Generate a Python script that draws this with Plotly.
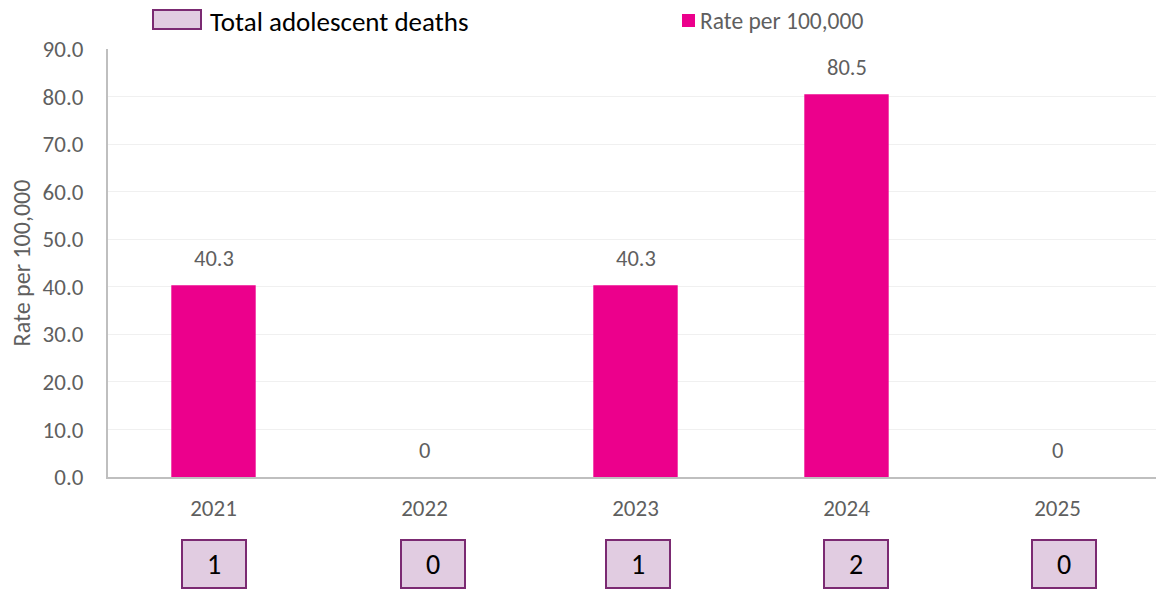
import plotly.graph_objects as go

# Adolescent mortality by year
years = ["2021", "2022", "2023", "2024", "2025"]
rate_per_100k = [40.3, 0, 40.3, 80.5, 0]
total_deaths = [1, 0, 1, 2, 0]
y_ticks = [0, 10, 20, 30, 40, 50, 60, 70, 80, 90]

BAR = "#EC008C"
GREY_TXT = "#5F5F5F"
BOX_FILL = "#E1CCE1"
BOX_LINE = "#7B2A72"
FONT = "Carlito, Calibri, Lato, sans-serif"

W, H = 1156, 590
L, R, T, B = 108, 0, 49, 113
PW, PH = W - L - R, H - T - B

# horizontal nudges (px) of the hand-placed count boxes
box_nudge = [0, 8, 2, 9, 6]


def px(x):
    return (x - L) / PW


def py(y):
    return (H - B - y) / PH


fig = go.Figure()
fig.add_trace(go.Bar(
    x=list(range(len(years))), y=rate_per_100k,
    marker=dict(color=BAR, line=dict(width=0)),
    width=0.40, showlegend=False, hoverinfo="skip",
))

annotations = []
# value labels above each bar
for i, v in enumerate(rate_per_100k):
    annotations.append(dict(
        x=i, y=v, xref="x", yref="y", text=("0" if v == 0 else f"{v:.1f}"),
        showarrow=False, yanchor="bottom", yshift=11,
        font=dict(family=FONT, size=22.5, color=GREY_TXT),
    ))
# death count boxes under each year
for i, n in enumerate(total_deaths):
    annotations.append(dict(
        x=i, y=py(563.5), xref="x", yref="paper", text=str(n),
        showarrow=False, yanchor="middle", xanchor="center", xshift=box_nudge[i],
        width=60, height=44, borderpad=1, borderwidth=2,
        bgcolor=BOX_FILL, bordercolor=BOX_LINE,
        font=dict(family=FONT, size=28, color="black"),
    ))
# legend texts
annotations.append(dict(
    x=px(208), y=py(21), xref="paper", yref="paper", text="Total adolescent deaths",
    showarrow=False, xanchor="left", yanchor="middle",
    font=dict(family=FONT, size=27, color="black"),
))
annotations.append(dict(
    x=px(698), y=py(21), xref="paper", yref="paper", text="Rate per 100,000",
    showarrow=False, xanchor="left", yanchor="middle",
    font=dict(family=FONT, size=23.5, color=GREY_TXT),
))

shapes = [
    dict(type="rect", xref="paper", yref="paper",
         x0=px(153), x1=px(201), y0=py(29), y1=py(10),
         fillcolor=BOX_FILL, line=dict(color=BOX_LINE, width=2)),
    dict(type="rect", xref="paper", yref="paper",
         x0=px(682), x1=px(695), y0=py(27), y1=py(14),
         fillcolor=BAR, line=dict(width=0)),
]

fig.update_layout(
    width=W, height=H,
    margin=dict(l=L, r=R, t=T, b=B, pad=0),
    paper_bgcolor="white", plot_bgcolor="white",
    font=dict(family=FONT, color=GREY_TXT),
    annotations=annotations, shapes=shapes,
    bargap=0.6,
    xaxis=dict(
        range=[-0.5, -0.5 + PW / 211.0],
        tickmode="array", tickvals=list(range(len(years))), ticktext=years,
        showgrid=False, zeroline=False,
        showline=True, linecolor="#BFBFBF", linewidth=2,
        ticks="", ticklabelstandoff=9,
        tickfont=dict(family=FONT, size=23, color=GREY_TXT),
        fixedrange=True,
    ),
    yaxis=dict(
        range=[0, 90], tickmode="array", tickvals=y_ticks, tickformat=".1f",
        showgrid=True, gridcolor="#F0F0F0", gridwidth=1,
        zeroline=False, showline=True, linecolor="#BFBFBF", linewidth=2,
        ticks="", ticklabelstandoff=18,
        tickfont=dict(family=FONT, size=23, color=GREY_TXT),
        title=dict(text="Rate per 100,000", standoff=5,
                   font=dict(family=FONT, size=24, color=GREY_TXT)),
        fixedrange=True,
    ),
)

fig.write_html("out.html", config={"displayModeBar": False})
